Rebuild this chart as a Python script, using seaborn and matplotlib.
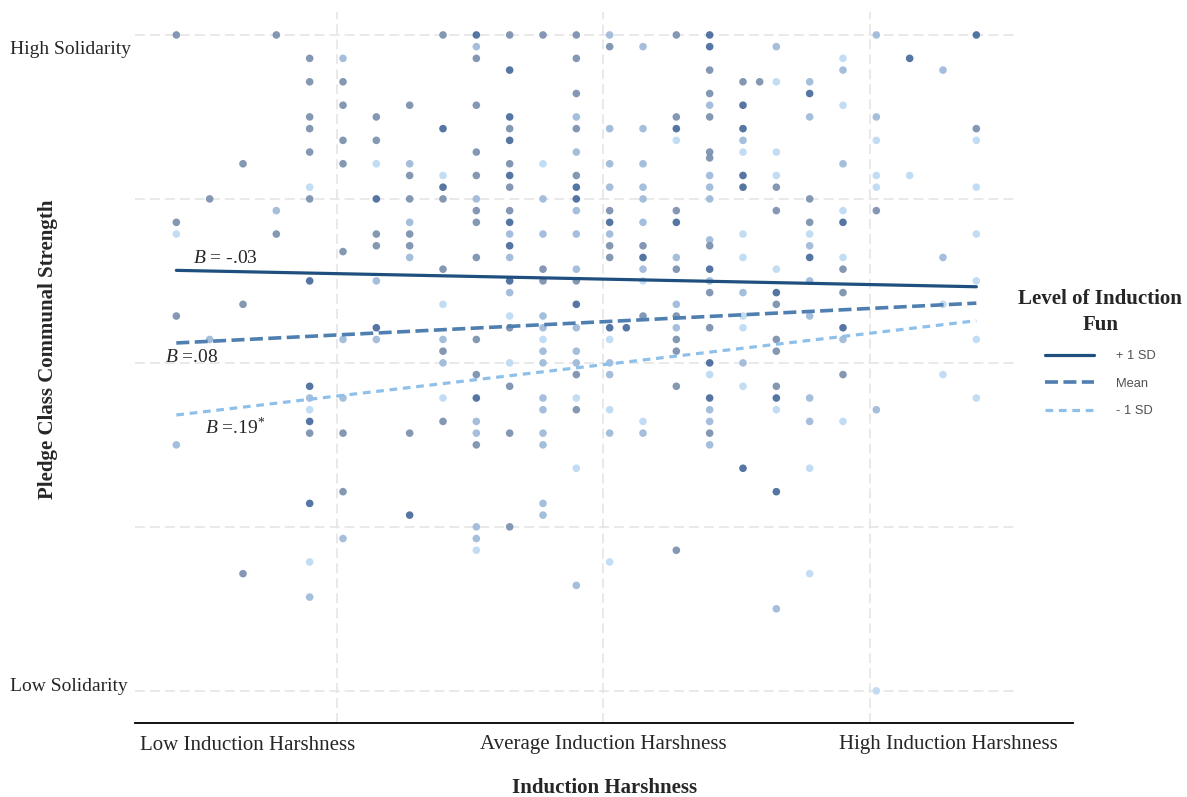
import matplotlib.pyplot as plt
import seaborn as sns
import pandas as pd
from matplotlib.font_manager import FontProperties

# raw scores: harshness step (0-24), solidarity step (0 = low, 56 = high), fun shade (1 = most fun)
harshness = [
    0, 0, 0, 0, 0,
    1, 1,
    2, 2, 2,
    3, 3, 3,
    4, 4, 4, 4, 4, 4, 4, 4, 4, 4, 4, 4, 4, 4, 4, 4,
    5, 5, 5, 5, 5, 5, 5, 5, 5, 5, 5,
    6, 6, 6, 6, 6, 6, 6, 6, 6,
    7, 7, 7, 7, 7, 7, 7, 7, 7, 7,
    8, 8, 8, 8, 8, 8, 8, 8, 8, 8, 8, 8,
    9, 9, 9, 9, 9, 9, 9, 9, 9, 9, 9, 9, 9, 9, 9, 9, 9, 9, 9,
    10, 10, 10, 10, 10, 10, 10, 10, 10, 10, 10, 10, 10, 10, 10, 10, 10, 10, 10, 10, 10,
    11, 11, 11, 11, 11, 11, 11, 11, 11, 11, 11, 11, 11, 11, 11, 11, 11,
    12, 12, 12, 12, 12, 12, 12, 12, 12, 12, 12, 12, 12, 12, 12, 12, 12, 12, 12, 12, 12, 12,
    13, 13, 13, 13, 13, 13, 13, 13, 13, 13, 13, 13, 13, 13, 13, 13, 13,
    13.5,
    14, 14, 14, 14, 14, 14, 14, 14, 14, 14, 14, 14, 14,
    15, 15, 15, 15, 15, 15, 15, 15, 15, 15, 15, 15, 15, 15, 15,
    16, 16, 16, 16, 16, 16, 16, 16, 16, 16, 16, 16, 16, 16, 16, 16, 16, 16, 16, 16, 16, 16, 16, 16,
    17, 17, 17, 17, 17, 17, 17, 17, 17, 17, 17, 17, 17, 17, 17,
    17.5,
    18, 18, 18, 18, 18, 18, 18, 18, 18, 18, 18, 18, 18, 18, 18, 18,
    19, 19, 19, 19, 19, 19, 19, 19, 19, 19, 19, 19, 19, 19,
    20, 20, 20, 20, 20, 20, 20, 20, 20, 20, 20, 20, 20,
    21, 21, 21, 21, 21, 21, 21, 21,
    22, 22,
    23, 23, 23, 23,
    24, 24, 24, 24, 24, 24, 24, 24,
]
solidarity = [
    56, 40, 39, 32, 21,
    42, 30,
    45, 33, 10,
    56, 41, 39,
    54, 52, 49, 48, 46, 43, 42, 35, 26, 25, 24, 23, 22, 16, 11, 8,
    54, 52, 50, 47, 45, 37.5, 30, 25, 22, 17, 13,
    49, 47, 45, 42, 39, 38, 35, 31, 30,
    50, 45, 44, 42, 40, 39, 38, 37, 22, 15,
    56, 48, 44, 43, 42, 36, 33, 30, 29, 28, 25, 23,
    56, 55, 54, 50, 46, 44, 42, 41, 40, 37, 30, 27, 25, 23, 22, 21, 14, 13, 12,
    56, 53, 49, 48, 47, 45, 44, 43, 41, 40, 39, 38, 37, 35, 34, 32, 31, 28, 26, 22, 14,
    56, 45, 42, 39, 36, 35, 32, 31, 30, 29, 28, 25, 24, 22, 21, 16, 15,
    56, 54, 51, 49, 48, 46, 44, 43, 42, 41, 39, 36, 35, 33, 31, 29, 28, 27, 25, 24, 19, 9,
    56, 55, 48, 45, 43, 41, 40, 39, 38, 37, 31, 30, 28, 27, 24, 22, 11,
    31,
    55, 48, 45, 43, 42, 40, 38, 37, 36, 35, 32, 23, 22,
    56, 49, 48, 47, 41, 40, 37, 36, 33, 32, 31, 30, 29, 26, 12,
    56, 55, 53, 51, 50, 49, 46, 45.5, 44, 43, 42, 38.5, 38, 36, 35, 34, 31, 28, 27, 25, 24, 23, 22, 21,
    52, 50, 48, 47, 46, 44, 43, 39, 37, 34, 32, 31, 28, 26, 19,
    52,
    55, 52, 46, 44, 43, 41, 36, 34, 33, 30, 29, 26, 25, 24, 17, 7,
    52, 51, 49, 42, 40, 39, 38, 37, 35, 32, 25, 23, 19, 10,
    54, 53, 50, 45, 41, 40, 37, 36, 34, 31, 30, 27, 23,
    56, 49, 47, 44, 43, 41, 24, 0,
    54, 44,
    53, 37, 33, 27,
    56, 48, 47, 43, 39, 35, 30, 25,
]
fun_shade = [
    2, 2, 4, 2, 3,
    2, 3,
    2, 2, 2,
    2, 3, 2,
    2, 2, 2, 2, 2, 4, 2, 1, 1, 3, 4, 1, 2, 1, 4, 3,
    3, 2, 2, 2, 2, 2, 3, 3, 2, 2, 3,
    2, 2, 4, 1, 2, 2, 3, 1, 3,
    2, 3, 2, 2, 3, 2, 2, 3, 2, 1,
    2, 1, 4, 1, 2, 2, 4, 3, 2, 3, 4, 2,
    1, 3, 2, 2, 2, 2, 3, 2, 2, 2, 2, 2, 1, 3, 3, 2, 3, 3, 4,
    2, 1, 1, 2, 1, 2, 1, 2, 2, 1, 3, 1, 3, 1, 3, 4, 2, 4, 2, 2, 2,
    2, 4, 3, 3, 2, 2, 3, 3, 4, 3, 3, 3, 3, 3, 3, 3, 3,
    2, 2, 2, 3, 2, 3, 2, 1, 1, 3, 3, 3, 2, 1, 3, 3, 3, 2, 4, 2, 4, 3,
    3, 2, 3, 3, 3, 2, 1, 3, 2, 2, 1, 4, 3, 3, 4, 3, 4,
    1,
    3, 3, 3, 3, 3, 3, 2, 1, 3, 4, 2, 4, 3,
    2, 2, 1, 4, 2, 1, 3, 2, 3, 2, 3, 2, 2, 2, 2,
    1, 1, 2, 2, 3, 2, 2, 2, 3, 3, 3, 3, 2, 1, 3, 2, 2, 1, 4, 1, 3, 3, 2, 3,
    2, 1, 1, 3, 4, 1, 1, 4, 4, 3, 4, 4, 3, 4, 1,
    2,
    3, 4, 4, 4, 2, 2, 4, 1, 2, 2, 2, 2, 1, 4, 1, 3,
    3, 1, 3, 2, 2, 4, 3, 1, 3, 3, 3, 3, 4, 4,
    4, 3, 4, 3, 4, 1, 4, 2, 2, 1, 3, 2, 4,
    3, 3, 4, 4, 4, 2, 3, 4,
    1, 4,
    3, 3, 4, 4,
    1, 2, 4, 4, 4, 4, 4, 4,
]

# simple slopes, predicted solidarity at both ends of the harshness range
fit_x = [0, 24]
plus_sd = [35.9, 34.5]
mean_fun = [29.7, 33.1]
minus_sd = [23.55, 31.6]
slope_labels = ["+ 1 SD", "Mean", "- 1 SD"]

x_tick_labels = ["Low Induction Harshness", "Average Induction Harshness", "High Induction Harshness"]
y_tick_labels = ["High Solidarity", "Low Solidarity"]

df = pd.DataFrame({"harshness": harshness, "solidarity": solidarity, "fun": fun_shade})

sns.set_theme(style="white")
plt.rcParams["font.family"] = ["Liberation Serif", "DejaVu Serif"]
plt.rcParams["mathtext.fontset"] = "custom"
plt.rcParams["mathtext.rm"] = "Liberation Serif"
plt.rcParams["mathtext.it"] = "Liberation Serif:italic"

fig = plt.figure(figsize=(11.87, 7.97), dpi=100)
ax = fig.add_axes([135 / 1187, 1 - 723 / 797, 938 / 1187, 711 / 797])

# dashed grid, drawn by hand so the horizontal lines stop short of the axis end
grid_kw = dict(color="#e3e3e3", lw=1.1, linestyles=(0, (6.5, 3.3)), zorder=0)
ax.hlines([0, 14, 28, 42, 56], -1.24, 25.16, **grid_kw)
ax.vlines([4.83, 12.81, 20.8], -2.75, 57.96, **grid_kw)

shade_pal = {1: "#46699a", 2: "#7a8fae", 3: "#9db9d9", 4: "#bddaf3"}
sns.scatterplot(data=df, x="harshness", y="solidarity", hue="fun", palette=shade_pal,
                s=30, linewidth=0, alpha=0.92, legend=False, ax=ax)

line_styles = [
    (plus_sd, "#1f4f7f", 2.3, "-"),
    (mean_fun, "#4f7fb0", 2.6, (0, (3.6, 1.5))),
    (minus_sd, "#8ec0ea", 2.3, (0, (2.4, 1.8))),
]
for (vals, col, lw, ls), name in zip(line_styles, slope_labels):
    sns.lineplot(x=fit_x, y=vals, color=col, linewidth=lw, linestyle=ls, label=name, ax=ax)

ax.text(0.5, 36.9, "$B$ = -.03", ha="left", va="center", fontsize=14)
ax.text(-0.34, 28.5, "$B$ =.08", ha="left", va="center", fontsize=14)
ax.text(0.86, 22.5, "$B$ =.19$^{*}$", ha="left", va="center", fontsize=14)

ax.set_xlim(-1.24, 26.9)
ax.set_ylim(-2.75, 57.96)

ax.set_xticks([2.15, 12.8, 23.15])
ax.set_xticklabels(x_tick_labels, fontsize=15)
ax.set_yticks([54.9, 0.5])
ax.set_yticklabels(y_tick_labels, fontsize=14)
ax.tick_params(axis="x", length=0, pad=9)
ax.tick_params(axis="y", length=0, pad=90)
for lbl in ax.get_yticklabels():
    lbl.set_ha("left")

ax.set_xlabel("Induction Harshness", fontsize=15, fontweight="bold")
ax.set_ylabel("Pledge Class Communal Strength", fontsize=15, fontweight="bold")
ax.xaxis.set_label_coords(0.501, -0.077)
ax.yaxis.set_label_coords(-0.082, 0.525)

for side in ["top", "right", "left"]:
    ax.spines[side].set_visible(False)
ax.spines["bottom"].set_color("black")
ax.spines["bottom"].set_linewidth(1.3)

leg = ax.legend(title="Level of Induction\nFun", loc="upper left",
                bbox_to_anchor=(1012 / 1187, 1 - 283 / 797), bbox_transform=fig.transFigure,
                frameon=False, prop=FontProperties(family="Liberation Sans", size=9.3),
                title_fontproperties=FontProperties(family="Liberation Serif", weight="bold", size=15),
                handlelength=3.85, handletextpad=1.7, labelspacing=1.2, borderpad=0)
leg.get_title().set_multialignment("center")
leg.get_title().set_linespacing(1.35)
for t in leg.get_texts():
    t.set_color("#505050")

fig.savefig("out.png", dpi=100)
